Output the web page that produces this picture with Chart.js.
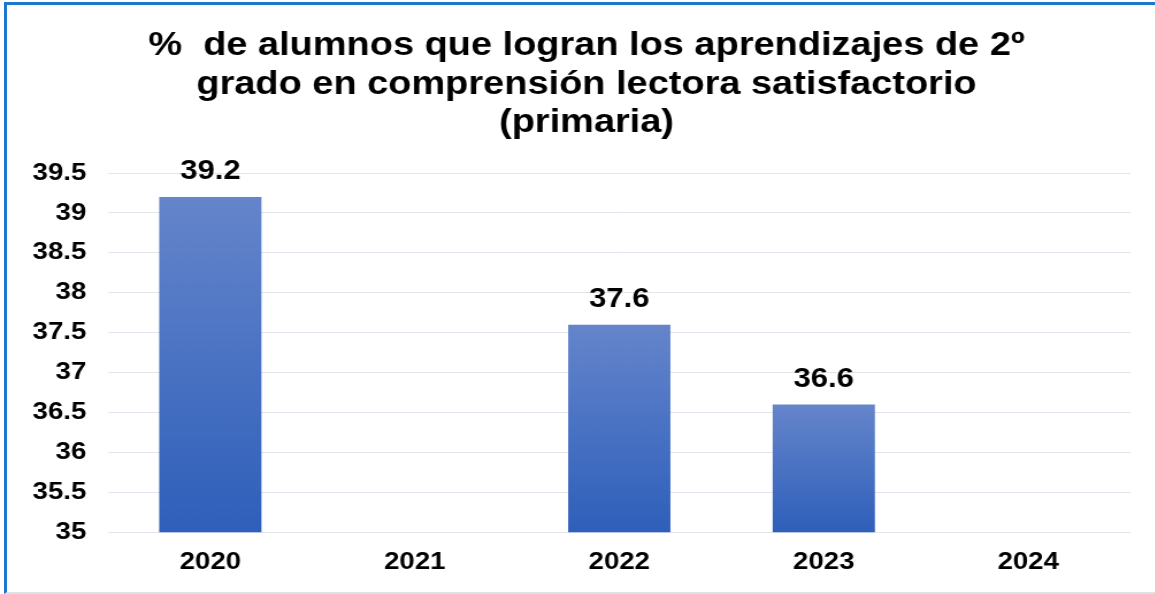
<!DOCTYPE html>
<html>
<head>
<meta charset="utf-8">
<script src="https://cdn.jsdelivr.net/npm/chart.js@4/dist/chart.umd.min.js"></script>
<style>
  html, body { margin: 0; padding: 0; background: #fff; overflow: hidden; }
  #marco { position: absolute; left: 4px; top: 2px; width: 1200px; height: 587px;
           border-top: 3px solid #1b78cc; border-left: 3px solid #1b78cc; border-bottom: 2px solid #dde2e8; }
  #caja { position: absolute; left: 0; top: 0; width: 1004px; height: 594px;
          transform: scaleX(1.15); transform-origin: 0 0; }
</style>
</head>
<body>
<div id="marco"></div>
<div id="caja"><canvas id="grafico"></canvas></div>
<script>
// datos
const anios = ['2020', '2021', '2022', '2023', '2024'];
const porcentajes = [39.2, null, 37.6, 36.6, null];
const tituloLineas = ['%  de alumnos que logran los aprendizajes de 2º', 'grado en comprensión lectora satisfactorio', '(primaria)'];

const fuente = 'Liberation Sans, Arial, sans-serif';

// degradado por barra, como en el original
function colorBarra(ctx) {
    const chart = ctx.chart;
    if (!chart.chartArea || ctx.raw == null) return '#4472c4';
    const y = chart.scales.y;
    const arriba = y.getPixelForValue(ctx.raw);
    const abajo = y.getPixelForValue(y.min);
    const g = chart.ctx.createLinearGradient(0, arriba, 0, abajo);
    g.addColorStop(0, '#6585cb');
    g.addColorStop(1, '#2e5fba');
    return g;
}

// titulo (va un poco a la derecha del centro, como en el original)
const titulo = {
    id: 'titulo',
    afterDraw(chart) {
        const ctx = chart.ctx;
        ctx.save();
        ctx.font = 'bold 33px ' + fuente;
        ctx.fillStyle = '#000';
        ctx.textAlign = 'center';
        ctx.textBaseline = 'middle';
        tituloLineas.forEach((t, i) => ctx.fillText(t, 510, 46 + i * 38.5));
        ctx.restore();
    }
};

// etiquetas encima de las barras
const etiquetas = {
    id: 'etiquetas',
    afterDatasetsDraw(chart) {
        const ctx = chart.ctx;
        const meta = chart.getDatasetMeta(0);
        ctx.save();
        ctx.font = 'bold 27px ' + fuente;
        ctx.fillStyle = '#000';
        ctx.textAlign = 'center';
        ctx.textBaseline = 'middle';
        meta.data.forEach((barra, i) => {
            if (porcentajes[i] == null) return;
            ctx.fillText(porcentajes[i].toFixed(1), barra.x, barra.y - 25);
        });
        ctx.restore();
    }
};

new Chart(document.getElementById('grafico').getContext('2d'), {
    type: 'bar',
    data: {
        labels: anios,
        datasets: [{
            data: porcentajes,
            backgroundColor: colorBarra,
            barPercentage: 0.5,
            categoryPercentage: 1
        }]
    },
    plugins: [titulo, etiquetas],
    options: {
        responsive: true,
        maintainAspectRatio: false,
        animation: false,
        layout: { padding: { left: 0, right: 21, top: 173, bottom: 1 } },
        plugins: {
            legend: { display: false },
            tooltip: { enabled: false },
            title: { display: false }
        },
        scales: {
            x: {
                grid: { display: false, drawTicks: false },
                border: { display: false },
                ticks: { color: '#000', font: { family: fuente, size: 24, weight: 'bold' }, padding: 16 }
            },
            y: {
                min: 35,
                max: 39.5,
                afterFit: s => { s.width = 94; },
                grid: { color: '#e2e6ec', drawTicks: false },
                border: { display: false },
                ticks: {
                    stepSize: 0.5,
                    color: '#000',
                    padding: 19,
                    font: { family: fuente, size: 24, weight: 'bold' },
                    callback: v => String(v)
                }
            }
        }
    }
});
</script>
</body>
</html>
